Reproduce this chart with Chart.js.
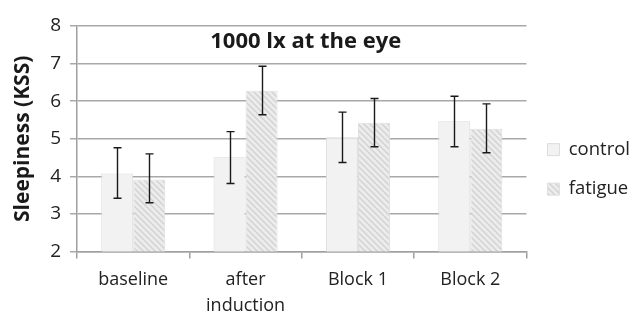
<!DOCTYPE html>
<html>
<head>
<meta charset="utf-8">
<script src="https://cdn.jsdelivr.net/npm/chart.js@4/dist/chart.umd.min.js"></script>
<style>
  html, body { margin: 0; padding: 0; background: #fff; }
  #wrap { width: 640px; height: 323px; }
</style>
</head>
<body>
<div id="wrap"><canvas id="c" width="640" height="323"></canvas></div>
<script>
// Mean sleepiness ratings (KSS) per session, with error bar ends
const categories = ['baseline', ['after', 'induction'], 'Block 1', 'Block 2'];
const seriesNames = ['control', 'fatigue'];
const controlMean = [4.08, 4.51, 5.04, 5.47];
const controlLow  = [3.42, 3.81, 4.37, 4.79];
const controlHigh = [4.76, 5.19, 5.71, 6.13];
const fatigueMean = [3.92, 6.28, 5.43, 5.27];
const fatigueLow  = [3.30, 5.64, 4.79, 4.63];
const fatigueHigh = [4.60, 6.93, 6.07, 5.93];
const yTicks = [2, 3, 4, 5, 6, 7, 8];
const titleText = '1000 lx at the eye';
const yTitle = 'Sleepiness (KSS)';

const FONT = '"Open Sans", Lato, sans-serif';

// diagonal hatch used for the fatigue bars
function makeHatch() {
  const s = 6;
  const p = document.createElement('canvas');
  p.width = s; p.height = s;
  const g = p.getContext('2d');
  g.fillStyle = '#ececec';
  g.fillRect(0, 0, s, s);
  g.strokeStyle = '#d2d2d2';
  g.lineWidth = 1.4;
  g.beginPath();
  g.moveTo(-1, -1); g.lineTo(s + 1, s + 1);
  g.moveTo(-1, s - 1); g.lineTo(1, s + 1);
  g.moveTo(s - 1, -1); g.lineTo(s + 1, 1);
  g.stroke();
  return g.createPattern(p, 'repeat');
}
const ctx = document.getElementById('c').getContext('2d');
const hatch = makeHatch();

const errorBars = {
  id: 'errorBars',
  afterDatasetsDraw(chart) {
    const c = chart.ctx;
    const y = chart.scales.y;
    const ranges = [[controlLow, controlHigh], [fatigueLow, fatigueHigh]];
    c.save();
    c.strokeStyle = '#1a1a1a';
    c.lineWidth = 1.4;
    ranges.forEach((r, di) => {
      chart.getDatasetMeta(di).data.forEach((bar, j) => {
        const x = Math.round(bar.x) + 0.5;
        const yl = y.getPixelForValue(r[0][j]);
        const yh = y.getPixelForValue(r[1][j]);
        c.beginPath();
        c.moveTo(x, yl); c.lineTo(x, yh);
        c.moveTo(x - 4, yl); c.lineTo(x + 4, yl);
        c.moveTo(x - 4, yh); c.lineTo(x + 4, yh);
        c.stroke();
      });
    });
    c.restore();
  }
};

const innerTitle = {
  id: 'innerTitle',
  afterDraw(chart) {
    const a = chart.chartArea;
    const c = chart.ctx;
    c.save();
    c.font = 'bold 22px ' + FONT;
    c.fillStyle = '#1a1a1a';
    c.textAlign = 'center';
    c.textBaseline = 'middle';
    c.fillText(titleText, (a.left + a.right) / 2 + 4, a.top + 16);
    c.restore();
  }
};

new Chart(ctx, {
  type: 'bar',
  data: {
    labels: categories,
    datasets: [
      { label: seriesNames[0], data: controlMean, backgroundColor: '#f2f2f2',
        borderColor: '#dcdcdc', borderWidth: 1 },
      { label: seriesNames[1], data: fatigueMean, backgroundColor: hatch,
        borderColor: '#dedede', borderWidth: 1 }
    ]
  },
  options: {
    responsive: false,
    animation: false,
    devicePixelRatio: 1,
    layout: { padding: { top: 26, right: 0, left: 10, bottom: -4 } },
    datasets: { bar: { categoryPercentage: 0.57, barPercentage: 1.0 } },
    plugins: {
      legend: {
        position: 'right',
        align: 'start',
        title: { display: true, text: ' ', font: { size: 12 }, padding: { top: 0, bottom: 79 } },
        labels: {
          font: { family: FONT, size: 18.5 },
          color: '#222',
          boxWidth: 12, boxHeight: 12,
          padding: 21
        }
      },
      tooltip: { enabled: false }
    },
    scales: {
      x: {
        grid: { offset: true, drawOnChartArea: false, color: '#a0a0a0', tickLength: 7, lineWidth: 1.5 },
        border: { color: '#a0a0a0', width: 1.5 },
        ticks: { font: { family: FONT, size: 18, lineHeight: 1.4 }, color: '#222', padding: 9, maxRotation: 0 }
      },
      y: {
        min: 2, max: 8,
        afterBuildTicks(axis) { axis.ticks = yTicks.map(v => ({ value: v })); },
        grid: { color: '#a8a8a8', lineWidth: 1.5, tickLength: 7 },
        border: { color: '#a0a0a0', width: 1.5 },
        ticks: { font: { family: FONT, size: 19 }, color: '#222', padding: 9 },
        title: { display: true, text: yTitle, font: { family: FONT, size: 21, weight: 'bold' }, color: '#1a1a1a', padding: { top: 0, bottom: 6 } }
      }
    }
  },
  plugins: [errorBars, innerTitle]
});
</script>
</body>
</html>
